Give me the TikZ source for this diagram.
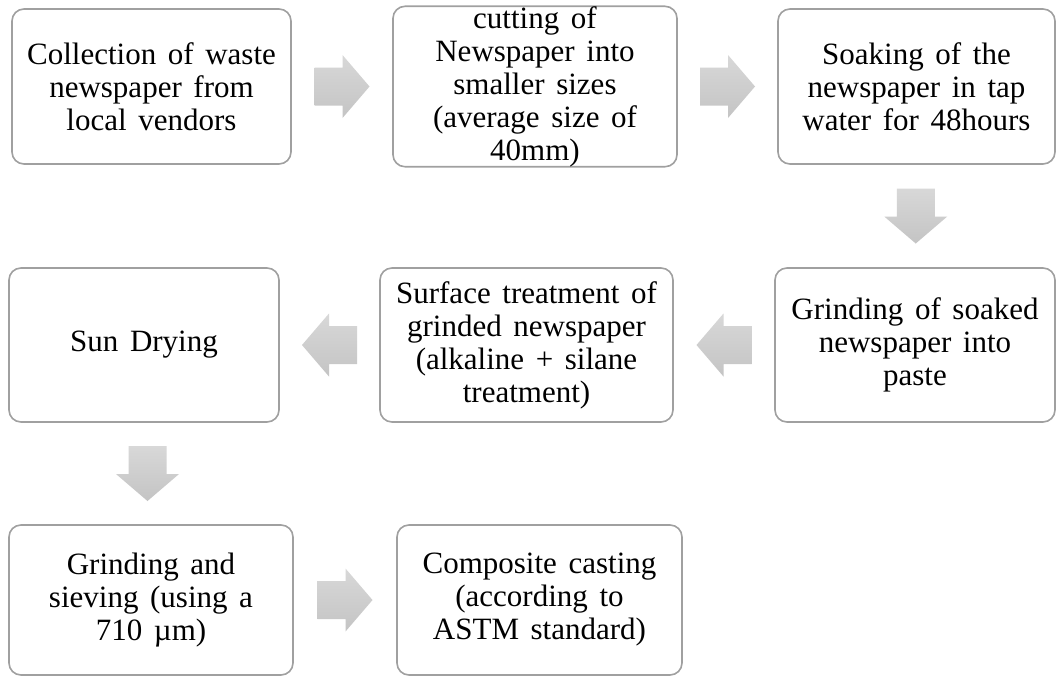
\documentclass[tikz,border=0pt]{standalone}
\usepackage{fontspec}
\setmainfont{Liberation Serif}[WordSpace=1.5]
\usetikzlibrary{calc}
\definecolor{boxline}{RGB}{160,160,160}
\definecolor{arrtop}{RGB}{216,216,216}
\definecolor{arrbot}{RGB}{196,196,196}
\tikzset{
  stepbox/.style={draw=boxline, line width=0.8pt, fill=white, rounded corners=6pt,
    align=center, inner sep=0pt, font=\fontsize{15.5pt}{16.5pt}\selectfont},
  blockarrow/.style={top color=arrtop, bottom color=arrbot, draw=none}
}
\newcommand\blockarr[2]{%
  \shade[blockarrow, shift={(#1)}, rotate=#2]
    (-27.5,-19) -- (0.5,-19) -- (0.5,-31.5) -- (27.5,0) -- (0.5,31.5) -- (0.5,19) -- (-27.5,19) -- cycle;}
\begin{document}
\begin{tikzpicture}[x=0.5pt, y=-0.5pt]
\fill[white] (0,0) rectangle (1056,676);
\useasboundingbox (0,0) rectangle (1056,676);
% row 1
\node[stepbox, minimum width=139.5pt, minimum height=77.5pt] (b1) at (151.5,86.5)
  {Collection of waste\\newspaper from\\local vendors};
\node[stepbox, minimum width=142pt, minimum height=77.5pt] (b2) at (535,86.5)
  {cutting of\\Newspaper into\\smaller sizes\\(average size of\\40mm)};
\node[stepbox, minimum width=138.5pt, minimum height=77.5pt] (b3) at (916.5,86.5)
  {Soaking of the\\newspaper in tap\\water for 48hours};
% row 2
\node[stepbox, minimum width=135pt, minimum height=77pt] (b4) at (144,345)
  {Sun Drying};
\node[stepbox, minimum width=146.5pt, minimum height=77pt] (b5) at (526.5,345)
  {Surface treatment of\\grinded newspaper\\(alkaline + silane\\treatment)};
\node[stepbox, minimum width=140pt, minimum height=77pt] (b6) at (915,345)
  {Grinding of soaked\\newspaper into\\paste};
% row 3
\node[stepbox, minimum width=142pt, minimum height=75pt] (b7) at (151,600)
  {Grinding and\\sieving (using a\\710 µm)};
\node[stepbox, minimum width=142.5pt, minimum height=75pt] (b8) at (539.5,600)
  {Composite casting\\(according to\\ASTM standard)};
% arrows
\coordinate (a1) at ($(b1.east)!0.5!(b2.west)$);
\coordinate (a2) at ($(b2.east)!0.5!(b3.west)$);
\coordinate (a3) at ($(b3.south)!0.5!(b6.north)$);
\coordinate (a4) at ($(b6.west)!0.5!(b5.east)$);
\coordinate (a5) at ($(b5.west)!0.5!(b4.east)$);
\coordinate (a6) at ($(b4.south)!0.5!(b7.north)$);
\coordinate (a7) at ($(b7.east)!0.5!(b8.west)$);
\blockarr{a1}{0}
\blockarr{a2}{0}
\blockarr{a3}{-90}
\blockarr{a4}{180}
\blockarr{a5}{180}
\blockarr{a6}{-90}
\blockarr{a7}{0}
\end{tikzpicture}
\end{document}
